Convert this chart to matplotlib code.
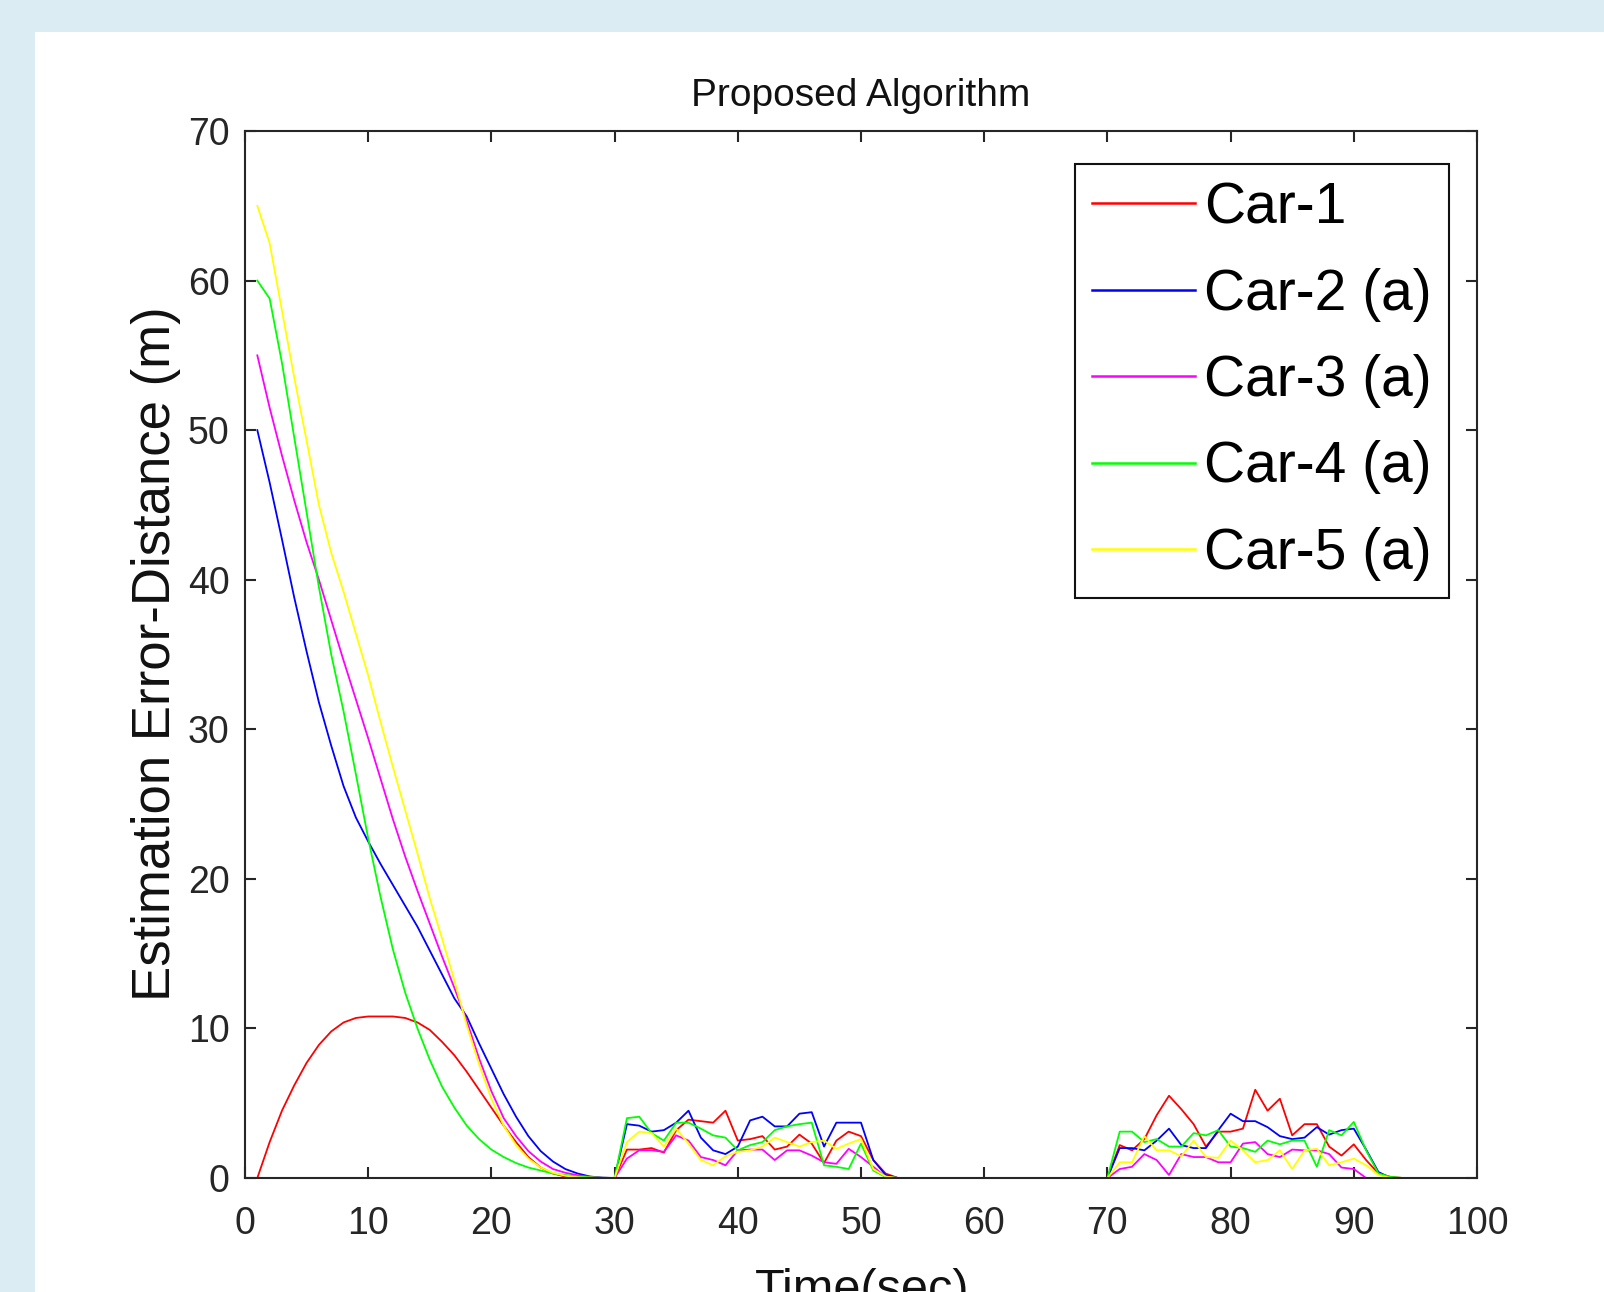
import matplotlib
matplotlib.use("Agg")
import matplotlib.pyplot as plt
from matplotlib.patches import Rectangle

plt.rcParams['font.family'] = ['Liberation Sans', 'DejaVu Sans']

# time axis (sec), one sample per second
time_s = list(range(1, 101))

# --- values --------------------------------------------------------------
# t = 1..30 : convergence phase
car1_decay = [0, 2.4, 4.5, 6.2, 7.7, 8.9, 9.8, 10.4, 10.7, 10.8, 10.8, 10.8, 10.7, 10.4, 9.9,
              9.1, 8.2, 7.1, 5.9, 4.7, 3.5, 2.4, 1.4, 0.7, 0.3, 0.1, 0.03, 0, 0, 0]
car2_decay = [50, 46.5, 42.7, 38.8, 35.2, 31.8, 28.9, 26.2, 24.1, 22.5, 21.0, 19.6, 18.2, 16.8, 15.2,
              13.6, 12.0, 10.8, 9.0, 7.3, 5.6, 4.1, 2.8, 1.8, 1.1, 0.6, 0.3, 0.1, 0.02, 0]
car3_decay = [55, 51.5, 48.3, 45.3, 42.5, 40.0, 37.3, 34.6, 32.0, 29.4, 26.7, 24.0, 21.5, 19.2, 17.0,
              14.8, 12.7, 10.5, 8.0, 5.8, 4.0, 2.8, 1.8, 1.1, 0.6, 0.35, 0.18, 0.08, 0.02, 0]
car4_decay = [60, 58.8, 54.5, 49.5, 44.5, 39.5, 35.0, 31.2, 27.0, 22.7, 18.8, 15.3, 12.4, 10.0, 7.9,
              6.1, 4.7, 3.5, 2.6, 1.9, 1.4, 1.0, 0.7, 0.5, 0.3, 0.2, 0.1, 0.05, 0.02, 0]
car5_decay = [65, 62.5, 58.0, 53.5, 49.3, 45.0, 41.8, 39.2, 36.4, 33.6, 30.5, 27.5, 24.6, 21.7, 18.7,
              16.0, 13.2, 10.2, 7.6, 5.3, 3.5, 2.2, 1.3, 0.7, 0.35, 0.15, 0.05, 0.02, 0, 0]

# t = 31..52 : first disturbance
car1_burst1 = [1.9, 1.9, 2.0, 1.7, 3.2, 3.9, 3.8, 3.7, 4.5, 2.5, 2.6, 2.8, 1.9, 2.1, 2.9,
               2.3, 1.0, 2.5, 3.1, 2.8, 1.2, 0.3]
car2_burst1 = [3.6, 3.5, 3.1, 3.2, 3.7, 4.5, 2.7, 1.85, 1.6, 2.1, 3.85, 4.1, 3.45, 3.45, 4.3,
               4.4, 2.1, 3.7, 3.7, 3.7, 1.2, 0.2]
car3_burst1 = [1.3, 1.85, 1.85, 1.75, 2.85, 2.5, 1.4, 1.2, 0.85, 1.85, 1.9, 1.9, 1.2, 1.85, 1.85,
               1.5, 1.05, 0.95, 1.95, 1.4, 0.75, 0.07]
car4_burst1 = [4.0, 4.1, 3.0, 2.5, 3.7, 3.7, 3.3, 2.85, 2.7, 1.85, 2.2, 2.4, 3.2, 3.45, 3.6,
               3.7, 0.85, 0.75, 0.6, 2.3, 0.5, 0.07]
car5_burst1 = [2.4, 3.1, 3.0, 2.1, 3.3, 2.3, 1.2, 0.85, 1.45, 1.75, 1.85, 2.1, 2.7, 2.4, 2.1,
               2.4, 2.5, 1.95, 2.3, 2.6, 0.6, 0.1]

# t = 53..70 : quiet
quiet_mid = [0.0] * 18

# t = 71..93 : second disturbance
car1_burst2 = [2.2, 1.85, 2.6, 4.2, 5.5, 4.6, 3.6, 2.1, 3.1, 3.1, 3.3, 5.9, 4.5, 5.3, 2.85,
               3.6, 3.6, 2.1, 1.5, 2.25, 1.2, 0.3, 0.07]
car2_burst2 = [2.0, 2.0, 1.85, 2.5, 3.3, 2.2, 2.0, 2.0, 3.2, 4.3, 3.8, 3.8, 3.4, 2.8, 2.6,
               2.7, 3.4, 2.9, 3.2, 3.3, 1.9, 0.4, 0]
car3_burst2 = [0.6, 0.75, 1.6, 1.2, 0.2, 1.6, 1.4, 1.4, 1.05, 1.05, 2.3, 2.4, 1.6, 1.4, 1.9,
               1.85, 1.85, 1.6, 0.7, 0.6, 0, 0, 0]
car4_burst2 = [3.1, 3.1, 2.4, 2.6, 2.1, 2.1, 3.0, 2.85, 3.2, 2.1, 2.0, 1.75, 2.5, 2.25, 2.5,
               2.5, 0.75, 3.2, 2.85, 3.75, 1.85, 0.3, 0.07]
car5_burst2 = [1.05, 1.05, 2.8, 1.85, 1.85, 1.45, 2.5, 1.4, 1.35, 2.5, 1.85, 1.05, 1.2, 1.85, 0.6,
               1.85, 1.95, 0.85, 1.05, 1.3, 0.85, 0.2, 0]

# t = 94..100 : quiet
quiet_end = [0.0] * 7

labels = ["Car-1", "Car-2 (a)", "Car-3 (a)", "Car-4 (a)", "Car-5 (a)"]
colors = ["#ff0000", "#0000ff", "#ff00ff", "#00ff00", "#ffff00"]

series = [
    car1_decay + car1_burst1 + quiet_mid + car1_burst2 + quiet_end,
    car2_decay + car2_burst1 + quiet_mid + car2_burst2 + quiet_end,
    car3_decay + car3_burst1 + quiet_mid + car3_burst2 + quiet_end,
    car4_decay + car4_burst1 + quiet_mid + car4_burst2 + quiet_end,
    car5_decay + car5_burst1 + quiet_mid + car5_burst2 + quiet_end,
]

W, H = 1604, 1292
fig = plt.figure(figsize=(W / 100, H / 100), dpi=100)
fig.patch.set_facecolor("#dbedf3")
# white figure panel on the light-blue page (kept behind the axes)
fig.patches.append(Rectangle((35 / W, 0), 1 - 35 / W, 1 - 32 / H, transform=fig.transFigure,
                             facecolor="white", edgecolor="none", zorder=-10))

ax = fig.add_axes([245 / W, 1 - 1178 / H, (1477 - 245) / W, (1178 - 131) / H])
ax.set_facecolor("white")

for vals, lab, col in zip(series, labels, colors):
    ax.plot(time_s, vals, color=col, lw=1.3, label=lab)

ax.set_xlim(0, 100)
ax.set_ylim(0, 70)
ax.set_xticks(range(0, 101, 10))
ax.set_yticks(range(0, 71, 10))

axcol = "#262626"
for s in ax.spines.values():
    s.set_color(axcol)
    s.set_linewidth(1.5)
ax.tick_params(direction="in", length=8, width=1.5, color=axcol, labelcolor=axcol,
               labelsize=27, top=True, right=True)
ax.tick_params(axis="x", pad=20)
ax.tick_params(axis="y", pad=11)

ax.set_title("Proposed Algorithm", fontsize=28, color="#111111", pad=18)

fig.text(156 / W, 1 - 654 / H, "Estimation Error-Distance (m)", rotation=90,
         ha="center", va="center", fontsize=38, color="#111111")
fig.text(862 / W, 1 - 1268 / H, "Time(sec)", ha="center", va="top",
         fontsize=35, color="#111111")

leg = ax.legend(loc="upper right", bbox_to_anchor=(1449 / W, 1 - 164 / H),
                bbox_transform=fig.transFigure, fontsize=41, frameon=True,
                fancybox=False, framealpha=1, edgecolor="#111111",
                handlelength=1.8, handletextpad=0.17, labelspacing=0.57,
                borderpad=0.3, borderaxespad=0)
leg.get_frame().set_linewidth(1.5)
for line in leg.get_lines():
    line.set_linewidth(1.8)

fig.savefig("out.png", dpi=100)
